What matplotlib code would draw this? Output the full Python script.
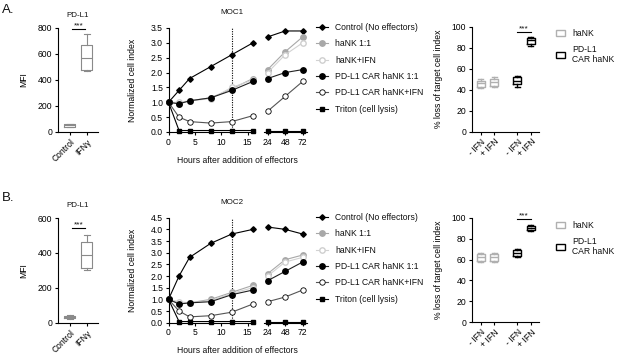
import matplotlib.pyplot as plt
from matplotlib.patches import Patch

plt.rcParams['font.family'] = ['Liberation Sans', 'DejaVu Sans']
plt.rcParams['font.size'] = 6.2
plt.rcParams['text.color'] = '#111111'
plt.rcParams['axes.linewidth'] = 0.8
plt.rcParams['xtick.major.width'] = 0.8
plt.rcParams['ytick.major.width'] = 0.8
plt.rcParams['xtick.major.size'] = 2.5
plt.rcParams['ytick.major.size'] = 2.5
plt.rcParams['xtick.major.pad'] = 1.5
plt.rcParams['ytick.major.pad'] = 1.5

W, H = 617, 355

# ---- data ----
hours_early = [0, 2, 4, 8, 12, 16]
hours_late = [24, 48, 72]
dotted_hour = 12

series_names = ['Control (No effectors)', 'haNK 1:1', 'haNK+IFN',
                'PD-L1 CAR haNK 1:1', 'PD-L1 CAR haNK+IFN', 'Triton (cell lysis)']

moc1_control = [1.0, 1.4, 1.8, 2.2, 2.6, 3.0, 3.2, 3.4, 3.4]
moc1_hank = [1.0, 0.95, 1.05, 1.15, 1.45, 1.8, 2.1, 2.7, 3.2]
moc1_hank_ifn = [1.0, 1.0, 1.05, 1.12, 1.5, 1.75, 2.0, 2.6, 3.0]
moc1_car = [1.0, 0.95, 1.05, 1.15, 1.4, 1.7, 1.8, 2.0, 2.1]
moc1_car_ifn = [1.0, 0.5, 0.35, 0.3, 0.35, 0.55, 0.7, 1.2, 1.7]
moc1_triton = [1.0, 0.05, 0.05, 0.05, 0.05, 0.05, 0.05, 0.05, 0.05]

moc2_control = [1.0, 2.0, 2.8, 3.4, 3.8, 4.0, 4.1, 4.0, 3.8]
moc2_hank = [1.0, 0.85, 0.85, 1.0, 1.3, 1.6, 2.1, 2.7, 2.9]
moc2_hank_ifn = [1.0, 0.9, 0.85, 0.95, 1.25, 1.5, 2.0, 2.6, 2.8]
moc2_car = [1.0, 0.8, 0.85, 0.9, 1.2, 1.4, 1.8, 2.2, 2.6]
moc2_car_ifn = [1.0, 0.5, 0.25, 0.3, 0.45, 0.8, 0.9, 1.1, 1.4]
moc2_triton = [1.0, 0.05, 0.05, 0.05, 0.05, 0.05, 0.05, 0.05, 0.05]

mfi_labels = ['Control', 'IFNγ']
# (whislo, q1, med, q3, whishi)
mfi_a = [(35, 40, 50, 60, 65), (470, 480, 570, 670, 750)]
mfi_b = [(20, 25, 32, 40, 45), (300, 315, 390, 460, 500)]

loss_labels = ['- IFN', '+ IFN', '- IFN', '+ IFN']
loss_a = [(42, 43, 46, 48, 50), (43, 44, 47, 50, 52),
          (43, 45, 48, 52, 53), (82, 84, 87, 89, 90)]
loss_b = [(58, 59, 62, 65, 66), (58, 59, 62, 65, 66),
          (62, 63, 66, 69, 70), (87, 88, 90, 92, 93)]

styles = [
    dict(color='black', marker='D', ms=2.8, mfc='black', mec='black'),
    dict(color='#a8a8a8', marker='o', ms=3.9, mfc='#a8a8a8', mec='#a8a8a8'),
    dict(color='#d2d2d2', marker='o', ms=3.9, mfc='white', mec='#cfcfcf'),
    dict(color='#222222', marker='o', ms=3.9, mfc='black', mec='black'),
    dict(color='#555555', marker='o', ms=3.9, mfc='white', mec='black', mew=0.6),
    dict(color='black', marker='s', ms=3.4, mfc='black', mec='black'),
]

fig = plt.figure(figsize=(W / 100, H / 100), dpi=100)


def px_axes(left, top, right, bottom):
    return fig.add_axes([left / W, 1 - bottom / H, (right - left) / W, (bottom - top) / H])


def clean(ax):
    ax.spines['top'].set_visible(False)
    ax.spines['right'].set_visible(False)


def mfi_panel(top, bottom, stats, ymax, yticks, sig_y, letter, letter_y):
    ax = px_axes(58, top, 98, bottom)
    clean(ax)
    bx = [dict(whislo=s[0], q1=s[1], med=s[2], q3=s[3], whishi=s[4], fliers=[]) for s in stats]
    props = dict(color='#8a8a8a', linewidth=0.8)
    ax.bxp(bx, positions=[1, 2], widths=0.65, capwidths=0.35, boxprops=props,
           whiskerprops=props, capprops=props, medianprops=props)
    ax.set_xlim(0.3, 2.65)
    ax.set_ylim(0, ymax)
    ax.set_yticks(yticks)
    ax.set_xticks([1, 2])
    ax.set_xticklabels(mfi_labels, rotation=45, ha='right', va='top', rotation_mode='anchor')
    ax.plot([1.1, 1.9], [sig_y, sig_y], color='black', lw=0.8, clip_on=False)
    ax.text(1.5, sig_y, '***', ha='center', va='bottom', fontsize=6)
    ax.set_ylabel('MFI')
    ax.yaxis.set_label_coords(-0.75, 0.5)
    ax.set_title('PD-L1', fontsize=5.8, pad=8)
    fig.text(2 / W, 1 - letter_y / H, letter, fontsize=9.5, va='center', ha='left')


def line_panel(top, bottom, ymax, data, title, leg_top):
    ax1 = px_axes(168.5, top, 255.5, bottom)
    ax2 = px_axes(264, top, 307, bottom)
    for vals, st, name in zip(data, styles, series_names):
        ax1.plot(hours_early, vals[:6], lw=0.8, clip_on=False, zorder=3, label=name, **st)
        ax2.plot(hours_late, vals[6:], lw=0.8, clip_on=False, zorder=3, **st)
    ax1.axvline(dotted_hour, color='black', ls=(0, (1, 1.2)), lw=0.8, zorder=1)
    ax1.set_xlim(0, 16.5)
    ax2.set_xlim(19, 78)
    for ax in (ax1, ax2):
        clean(ax)
        ax.set_ylim(0, ymax)
    ax1.set_xticks([0, 5, 10, 15])
    ax2.set_xticks(hours_late)
    ax1.set_yticks([i * 0.5 for i in range(int(ymax / 0.5) + 1)])
    ax1.yaxis.set_major_formatter(plt.FormatStrFormatter('%.1f'))
    ax2.spines['left'].set_visible(False)
    ax2.set_yticks([])
    ax1.set_ylabel('Normalized cell index')
    ax1.yaxis.set_label_coords(-0.36, 0.5)
    fig.text(237 / W, 1 - (bottom + 28) / H, 'Hours after addition of effectors',
             ha='center', va='center')
    fig.text(232 / W, 1 - (top - 15) / H, title, ha='center', va='center', fontsize=5.8)
    ax1.legend(loc='upper left', bbox_to_anchor=(316 / W, 1 - leg_top / H),
               bbox_transform=fig.transFigure, frameon=False, borderpad=0,
               borderaxespad=0, handlelength=1.4, handletextpad=0.8,
               labelspacing=0.85, fontsize=6.2)


def loss_panel(top, bottom, stats, sig_y, leg_top):
    ax = px_axes(471.7, top, 539, bottom)
    clean(ax)
    pos = [1, 2, 3.7, 4.7]
    colors = ['#b0b0b0', '#b0b0b0', 'black', 'black']
    for p, s, c in zip(pos, stats, colors):
        bx = [dict(whislo=s[0], q1=s[1], med=s[2], q3=s[3], whishi=s[4], fliers=[])]
        props = dict(color=c, linewidth=1.0)
        ax.bxp(bx, positions=[p], widths=0.6, capwidths=0.35, boxprops=props,
               whiskerprops=props, capprops=props, medianprops=props, manage_ticks=False)
    ax.set_xlim(0.34, 5.3)
    ax.set_ylim(0, 100)
    ax.set_yticks(range(0, 101, 20))
    ax.set_xticks(pos)
    ax.set_xticklabels(loss_labels, rotation=45, ha='right', va='top', rotation_mode='anchor')
    ax.plot([3.7, 4.7], [sig_y, sig_y], color='black', lw=0.8, clip_on=False)
    ax.text(4.2, sig_y, '***', ha='center', va='bottom', fontsize=6)
    ax.set_ylabel('% loss of target cell index')
    ax.yaxis.set_label_coords(-0.42, 0.5)
    handles = [Patch(facecolor='white', edgecolor='#b0b0b0', lw=1.0),
               Patch(facecolor='white', edgecolor='black', lw=1.0)]
    ax.legend(handles, ['haNK', 'PD-L1\nCAR haNK'], loc='upper left',
              bbox_to_anchor=(556 / W, 1 - leg_top / H), bbox_transform=fig.transFigure,
              frameon=False, borderpad=0, borderaxespad=0, handlelength=1.1,
              handleheight=0.7, handletextpad=0.8, labelspacing=0.8, fontsize=6.2)


mfi_panel(28, 132, mfi_a, 800, [0, 200, 400, 600, 800], 790, 'A.', 10)
mfi_panel(218, 322.7, mfi_b, 600, [0, 200, 400, 600], 540, 'B.', 198)

line_panel(28, 132, 3.5, [moc1_control, moc1_hank, moc1_hank_ifn, moc1_car,
                          moc1_car_ifn, moc1_triton], 'MOC1', 23)
line_panel(217.7, 322.7, 4.5, [moc2_control, moc2_hank, moc2_hank_ifn, moc2_car,
                               moc2_car_ifn, moc2_triton], 'MOC2', 213)

loss_panel(26.7, 131.7, loss_a, 95, 29)
loss_panel(217.7, 322.3, loss_b, 98.5, 221)

fig.savefig('out.png', dpi=100)
